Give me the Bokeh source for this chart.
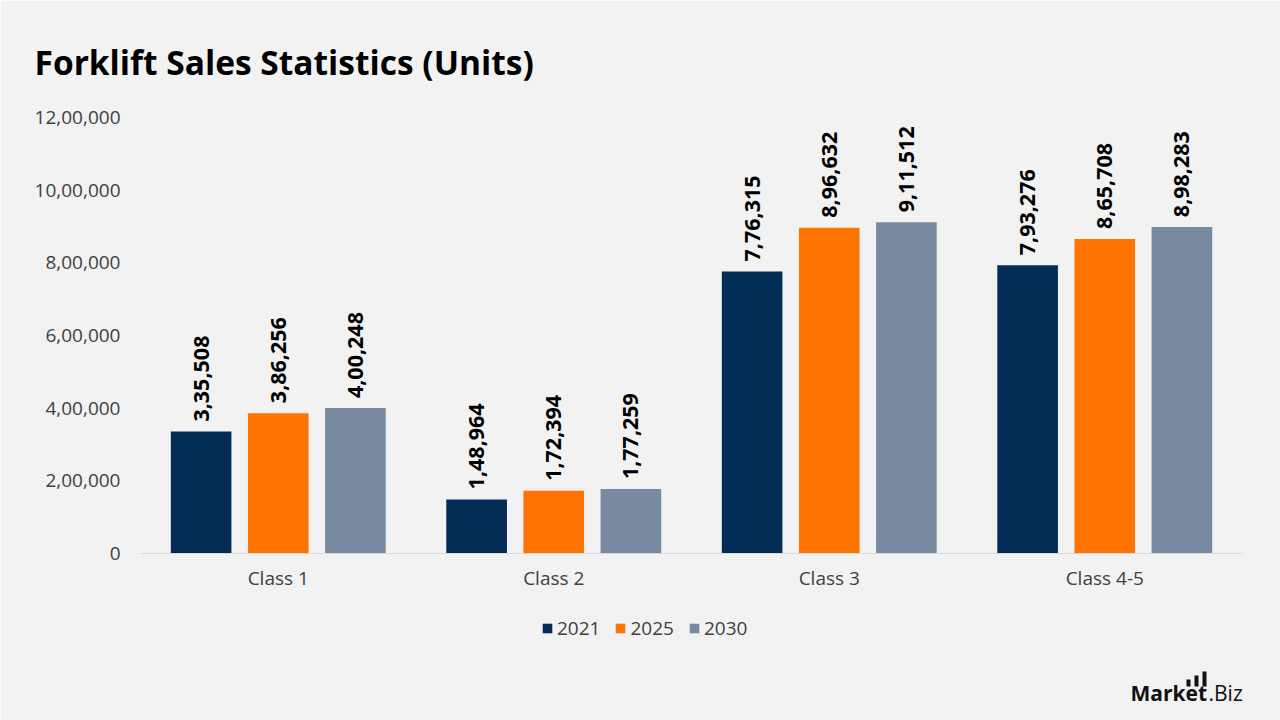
import numpy as np
from bokeh.plotting import figure
from bokeh.models import (Range1d, ColumnDataSource, Legend, LegendItem, Title, Label,
                          FixedTicker, LabelSet, BoxAnnotation)
from bokeh.embed import file_html
from bokeh.resources import INLINE
from bokeh.core.properties import value

categories = ["Class 1", "Class 2", "Class 3", "Class 4-5"]
years = ["2021", "2025", "2030"]
sales_2021 = [335508, 148964, 776315, 793276]
sales_2025 = [386256, 172394, 896632, 865708]
sales_2030 = [400248, 177259, 911512, 898283]
y_ticks = [0, 200000, 400000, 600000, 800000, 1000000, 1200000]
y_tick_labels = ["0", "2,00,000", "4,00,000", "6,00,000", "8,00,000", "10,00,000", "12,00,000"]
colors = ["#022B55", "#FF7300", "#778AA0"]

def indian(n):
    s = str(int(n))
    if len(s) <= 3:
        return s
    last3 = s[-3:]
    rest = s[:-3]
    parts = []
    while len(rest) > 2:
        parts.insert(0, rest[-2:])
        rest = rest[:-2]
    if rest:
        parts.insert(0, rest)
    return ",".join(parts) + "," + last3

FONT = "Open Sans"
BG = "#F2F2F2"

# layout geometry (canvas pixels)
W, H = 1280, 720
LEFT, TOP = 140, 117          # frame left / top
AX_RIGHT, AX_BOTTOM = 1242, 553   # where the category band ends and where value 0 sits
n = len(categories)
ymax = y_ticks[-1]
px_per_cat = (AX_RIGHT - LEFT) / n
units_per_px = ymax / (AX_BOTTOM - TOP)
x_end = n + (W - AX_RIGHT) / px_per_cat
y_start = -(H - AX_BOTTOM) * units_per_px

p = figure(width=W, height=H, x_range=Range1d(0, x_end), y_range=Range1d(y_start, ymax),
           output_backend="svg", toolbar_location=None, x_axis_location=None,
           min_border_left=LEFT, min_border_right=0, min_border_top=TOP, min_border_bottom=0)
p.background_fill_color = BG
p.border_fill_color = BG
p.outline_line_color = None
p.xgrid.visible = False
p.ygrid.visible = False

p.title = Title(text="Forklift Sales Statistics (Units)", align="left", offset=-106, standoff=66,
                text_font=FONT, text_font_style="bold", text_font_size="33.5px", text_color="#000000")

cat_x = np.arange(n) + 0.5
series = [sales_2021, sales_2025, sales_2030]
offsets = [-0.28, 0.0, 0.28]
renderers = []
for yr, vals, off, col in zip(years, series, offsets, colors):
    src = ColumnDataSource(dict(x=cat_x + off, v=vals, lab=[indian(v) for v in vals]))
    r = p.vbar(x="x", top="v", bottom=0, width=0.22, source=src, fill_color=col, line_color=None)
    renderers.append(r)
    p.add_layout(LabelSet(x="x", y="v", text="lab", source=src,
                          angle=1.5708, text_align="left", text_baseline="middle",
                          x_offset=0, y_offset=10, text_font=value(FONT), text_font_style="bold",
                          text_font_size="21.5px", text_color="#000000"))

# category axis: baseline and labels drawn at value 0
p.segment(x0=[0], y0=[0], x1=[n], y1=[0], line_color="#D9D9D9", line_width=1)
p.text(x=cat_x, y=[0] * n, text=categories, y_offset=24, text_align="center",
       text_baseline="middle", text_font=value(FONT), text_font_size="19px", text_color="#404040")

p.yaxis.ticker = FixedTicker(ticks=y_ticks)
p.yaxis.major_label_overrides = {t: l for t, l in zip(y_ticks, y_tick_labels)}
p.yaxis.axis_line_color = None
p.yaxis.major_tick_line_color = None
p.yaxis.minor_tick_line_color = None
p.yaxis.major_label_standoff = 14
p.yaxis.major_label_text_font = FONT
p.yaxis.major_label_text_font_size = "19px"
p.yaxis.major_label_text_color = "#404040"

legend = Legend(items=[LegendItem(label=y, renderers=[r]) for y, r in zip(years, renderers)],
                orientation="horizontal", location=(541 - LEFT, H - 641),
                background_fill_alpha=0, border_line_color=None,
                label_text_font=FONT, label_text_font_size="19px", label_text_color="#404040",
                glyph_width=12, glyph_height=12, spacing=14, label_standoff=4, padding=0, margin=0)
p.add_layout(legend)

# logo (screen units relative to the frame's bottom-left corner)
p.add_layout(Label(x=1130 - LEFT, y=H - 692, x_units="screen", y_units="screen", text="Market",
                   text_font=FONT, text_font_style="bold", text_font_size="21px", text_color="#111111",
                   text_baseline="middle", text_align="left"))
p.add_layout(Label(x=1208 - LEFT, y=H - 692, x_units="screen", y_units="screen", text=".Biz",
                   text_font=FONT, text_font_size="21px", text_color="#111111",
                   text_baseline="middle", text_align="left"))
for bx, top in [(1186, 679), (1194, 675), (1202, 671)]:
    p.add_layout(BoxAnnotation(left=bx - LEFT, right=bx + 4 - LEFT, bottom=H - 686, top=H - top,
                               left_units="screen", right_units="screen",
                               bottom_units="screen", top_units="screen",
                               fill_color="#111111", fill_alpha=1, line_color=None))

open("out.html", "w").write(file_html(p, INLINE))
